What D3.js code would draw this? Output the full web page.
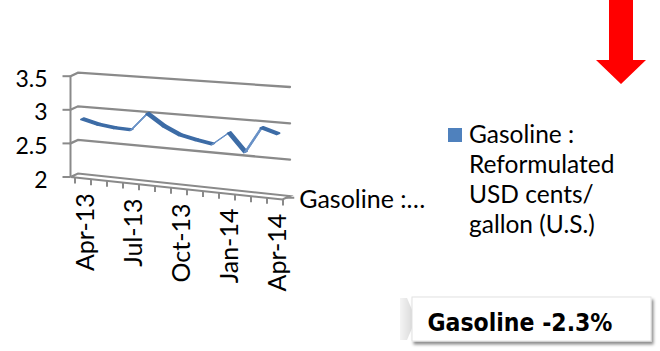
<!DOCTYPE html>
<html>
<head>
<meta charset="utf-8">
<script src="https://cdn.jsdelivr.net/npm/d3@7"></script>
<style>
  html, body { margin: 0; padding: 0; background: #fff; }
  svg { display: block; }
  text { font-family: Lato, "Open Sans", sans-serif; fill: #000; }
</style>
</head>
<body>
<svg id="chart" width="660" height="351"></svg>
<script>
// Monthly reformulated gasoline price, USD per gallon
const months = ["Apr-13","May-13","Jun-13","Jul-13","Aug-13","Sep-13","Oct-13",
                "Nov-13","Dec-13","Jan-14","Feb-14","Mar-14","Apr-14"];
const gasoline = [2.85, 2.79, 2.76, 2.75, 3.01, 2.85, 2.74, 2.69, 2.65, 2.83, 2.58, 2.94, 2.87];
const yTicks = [2, 2.5, 3, 3.5];
const xTickLabels = ["Apr-13","Jul-13","Oct-13","Jan-14","Apr-14"];
const seriesName = ["Gasoline :", "Reformulated", "USD cents/", "gallon (U.S.)"];
const depthLabel = "Gasoline :\u2026";
const changeLabel = "Gasoline -2.3%";

const svg = d3.select("#chart");
const gridColor = "#8a8a8a";

// 3-D box: back wall spans xBack; walls recede by a fixed depth vector
const cat = d3.scaleBand().domain(months).range([0, 1]);
const xBack = d3.scaleLinear().domain([0, 1]).range([78, 290]);
const yBackLeft = d3.scaleLinear().domain([2, 3.5]).range([173.5, 72.7]);
const yBackRight = d3.scaleLinear().domain([2, 3.5]).range([196, 87]);
const depth = [7.5, -3.5];

// c: fraction along category axis, v: value, z: 0 = front, 1 = back
function proj(c, v, z) {
  const yb = yBackLeft(v) * (1 - c) + yBackRight(v) * c;
  return [xBack(c) - (1 - z) * depth[0], yb - (1 - z) * depth[1]];
}
const line = d3.line();

// Gridlines: side wall piece + back wall
const grid = svg.append("g").attr("fill", "none").attr("stroke", gridColor)
  .attr("stroke-width", 2.3).attr("stroke-linecap", "round");
yTicks.filter(v => v > 2).forEach(v => {
  grid.append("path").attr("d", line([proj(0, v, 0), proj(0, v, 1), proj(1, v, 1)]));
});

// Floor slab (back edge, front edge and sides)
const floor = svg.append("g").attr("fill", "none").attr("stroke", gridColor).attr("stroke-width", 2);
floor.append("path").attr("d", line([proj(0, 2, 0), proj(0, 2, 1), proj(1, 2, 1), proj(1, 2, 0), proj(0, 2, 0)]));

// Value axis (front left edge) with ticks and labels
const yAxis = svg.append("g");
yAxis.append("path").attr("fill", "none").attr("stroke", gridColor).attr("stroke-width", 2)
  .attr("d", line([proj(0, 3.5, 0), proj(0, 2, 0)]));
yTicks.forEach(v => {
  const p = proj(0, v, 0);
  yAxis.append("line").attr("x1", p[0] - 8).attr("x2", p[0]).attr("y1", p[1]).attr("y2", p[1])
    .attr("stroke", gridColor).attr("stroke-width", 2);
  yAxis.append("text").attr("x", p[0] - 23).attr("y", p[1] + 10.5)
    .attr("text-anchor", "end").style("font-size", "23px").text(d3.format("")(v));
});

// Category axis ticks along the front edge of the floor
const tickX = d3.scaleLinear().domain([0, months.length]).range([75, 283]);
function frontY(x) {
  const a = proj(0, 2, 0), b = proj(1, 2, 0);
  return a[1] + (x - a[0]) * (b[1] - a[1]) / (b[0] - a[0]);
}
const xAxis = svg.append("g");
d3.range(months.length + 1).forEach(k => {
  const x = tickX(k), y = frontY(x);
  xAxis.append("line").attr("x1", x).attr("x2", x).attr("y1", y).attr("y2", y + 6)
    .attr("stroke", gridColor).attr("stroke-width", 2);
});
xTickLabels.forEach(lbl => {
  const i = months.indexOf(lbl);
  const x = tickX(i + 0.5), y = frontY(x) + 15;
  xAxis.append("text").attr("transform", `translate(${x + 1},${y}) rotate(-90)`)
    .attr("text-anchor", "end").attr("dominant-baseline", "central")
    .style("font-size", "25px").text(lbl);
});

// Depth (series) axis tick and label at the right end of the floor
const dA = proj(1, 2, 0.5);
svg.append("line").attr("x1", dA[0]).attr("x2", dA[0] + 8).attr("y1", dA[1]).attr("y2", dA[1])
  .attr("stroke", gridColor).attr("stroke-width", 2);
svg.append("text").attr("x", dA[0] + 13).attr("y", dA[1] + 10)
  .style("font-size", "25px").text(depthLabel);

// Series drawn as a thin 3-D ribbon at mid depth
const pts = gasoline.map((v, i) => ({ c: cat(months[i]) + cat.bandwidth() / 2, v }));
const ribbon = svg.append("g");
for (let i = 0; i < pts.length - 1; i++) {
  const a = pts[i], b = pts[i + 1];
  const zf = 0.3, zb = 0.7;
  const poly = [proj(a.c, a.v, zf), proj(b.c, b.v, zf), proj(b.c, b.v, zb), proj(a.c, a.v, zb)];
  const rising = b.v > a.v;
  const col = rising ? "#6790c6" : "#3d6ca6";
  ribbon.append("path").attr("d", line(poly) + "Z")
    .attr("fill", col).attr("stroke", col).attr("stroke-width", rising ? 1 : 1.7)
    .attr("stroke-linejoin", "round");
}

// Legend
const legend = svg.append("g");
legend.append("rect").attr("x", 448).attr("y", 128).attr("width", 14).attr("height", 14).attr("fill", "#4f81bd");
seriesName.forEach((t, i) => {
  legend.append("text").attr("x", 469).attr("y", 143 + i * 30).style("font-size", "24.5px").text(t);
});

// Change badge
const defs = svg.append("defs");
const sh = defs.append("filter").attr("id", "shadow").attr("x", "-10%").attr("y", "-20%")
  .attr("width", "130%").attr("height", "160%");
sh.append("feDropShadow").attr("dx", 2).attr("dy", 3).attr("stdDeviation", 1.8)
  .attr("flood-color", "#000").attr("flood-opacity", 0.45);
const gr = defs.append("linearGradient").attr("id", "notch").attr("x1", 0).attr("x2", 1).attr("y1", 0).attr("y2", 0);
gr.append("stop").attr("offset", 0).attr("stop-color", "#f4f4f4");
gr.append("stop").attr("offset", 1).attr("stop-color", "#d4d4d4");

svg.append("path").attr("d", "M400,298 L407,298 L416,319 L407,340 L400,340 Z").attr("fill", "url(#notch)");
svg.append("rect").attr("x", 412).attr("y", 297).attr("width", 239).attr("height", 44)
  .attr("fill", "#fff").attr("stroke", "#e2e2e2").attr("stroke-width", 1).attr("filter", "url(#shadow)");
svg.append("text").attr("x", 520).attr("y", 331).attr("text-anchor", "middle")
  .style("font-family", "'DejaVu Sans Condensed', 'DejaVu Sans', sans-serif")
  .style("font-weight", "bold").style("font-size", "24.5px").text(changeLabel);

// Downward trend arrow
svg.append("path").attr("fill", "#ff0000")
  .attr("d", "M609,0 L633,0 L633,60 L646,60 L621,84 L596,60 L609,60 Z");
</script>
</body>
</html>
